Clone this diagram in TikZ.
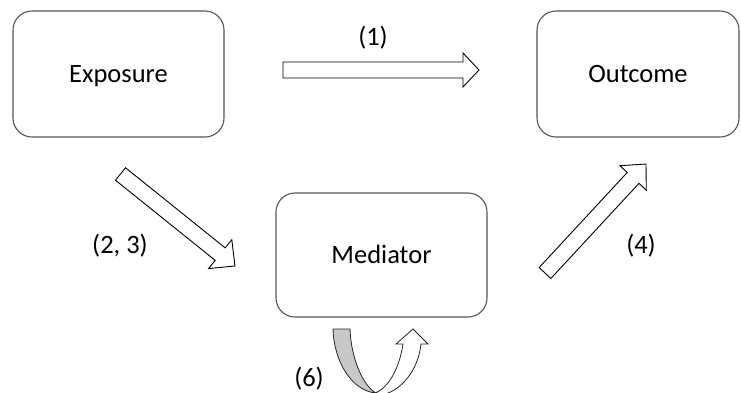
\documentclass[tikz,border=0pt]{standalone}
\usepackage{fontspec}
\setmainfont{Carlito}
\usetikzlibrary{calc}
\definecolor{boxline}{RGB}{85,85,85}
\definecolor{bandgray}{RGB}{200,200,200}
\tikzset{
  box/.style={draw=boxline, line width=1.1pt, rounded corners=19pt, fill=white,
    inner sep=0pt, text height=17.5pt, text depth=0pt},
  tag/.style={anchor=base, inner sep=0pt},
  blockarr/.style={draw=black, line width=0.9pt, fill=white, line join=miter},
  loopband/.style={draw=black!85, line width=0.8pt},
}
% block arrow from tail #1 to tip #2, head length #3, head half-width #4
\newcommand\blockarrow[4]{%
  \coordinate (hb) at ($(#2)!#3!(#1)$);
  \draw[blockarr] ($(#1)!8pt!90:(#2)$) -- ($(hb)!8pt!-90:(#1)$)
    -- ($(hb)!#4!-90:(#1)$) -- (#2) -- ($(hb)!#4!90:(#1)$)
    -- ($(hb)!8pt!90:(#1)$) -- ($(#1)!8pt!-90:(#2)$) -- cycle;}
\begin{document}
\begin{tikzpicture}[x=1pt, y=-1pt, font=\fontsize{26.5}{30}\selectfont]
\useasboundingbox (0,0) rectangle (741,392);

% the three boxes
\node[box, minimum width=211pt, minimum height=126pt] (exp) at (118.5,74) {Exposure};
\node[box, minimum width=202pt, minimum height=126pt] (out) at (638,74) {Outcome};
\node[box, minimum width=211pt, minimum height=124pt] (med) at (381.5,255) {Mediator};

% ends of the block arrows
\coordinate (a1t) at (283,70);    \coordinate (a1h) at (479,70);
\coordinate (a2t) at (120.5,174); \coordinate (a2h) at (235,266);
\coordinate (a4t) at (545,273);   \coordinate (a4h) at (646,164);

\blockarrow{a1t}{a1h}{16pt}{17pt}
\blockarrow{a2t}{a2h}{19pt}{18.5pt}
\blockarrow{a4t}{a4h}{19pt}{18pt}

% U-turn arrow below the mediator
\begin{scope}
  \clip (0,0) rectangle (741,392);
  \fill[bandgray, loopband] (333,329) .. controls (334,362) and (352,391) .. (376,393)
    .. controls (363,386) and (351,358) .. (350,329) -- cycle;
  \draw[loopband, fill=white] (375,393) .. controls (388,388) and (399,370) .. (403,344)
    -- (396,344) -- (413,329) -- (428,344) -- (421,344)
    .. controls (418,372) and (400,390) .. (385,394) -- cycle;
\end{scope}

% labels
\node[tag] (l1) at (373,45) {(1)};
\node[tag] (l23) at (120,253.3) {(2, 3)};
\node[tag] (l4) at (641,253) {(4)};
\node[tag] (l6) at (309,386.7) {(6)};
\end{tikzpicture}
\end{document}
